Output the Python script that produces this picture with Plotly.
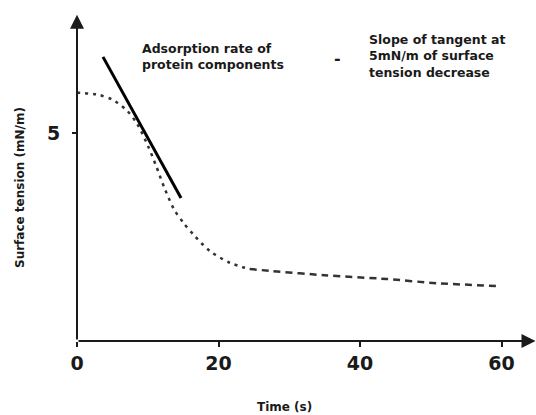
import plotly.graph_objects as go

# Data
t_dotted = [0.0, 3.0, 5.0, 7.0, 8.5, 10.0, 11.2, 12.4, 13.7, 15.0, 16.5, 18.8, 21.6, 24.4]
st_dotted = [5.97, 5.92, 5.80, 5.55, 5.22, 4.70, 4.20, 3.66, 3.17, 2.85, 2.55, 2.16, 1.88, 1.73]
t_dashed = [24.4, 27.7, 35.0, 43.8, 50.8, 59.7]
st_dashed = [1.73, 1.68, 1.58, 1.49, 1.39, 1.32]
t_tangent = [3.67, 14.7]
st_tangent = [6.83, 3.44]
x_ticks = [0, 20, 40, 60]
y_ticks = [5]

W, H = 536, 415
L, R, T, B = 77, 0, 10, 74
PW, PH = W - L - R, H - T - B
X_RANGE = [0, PW / 7.076]
Y_RANGE = [0, PH / 41.6]

def px(xp):
    return (xp - L) / PW

def py(yp):
    return (H - B - yp) / PH

FONT = "DejaVu Sans"
INK = "#1a1a1a"

fig = go.Figure()
fig.add_trace(go.Scatter(x=t_dotted, y=st_dotted, mode="lines",
                         line=dict(color="#333", width=2.5, dash="3px,5px",
                                   shape="spline", smoothing=0.8),
                         showlegend=False, hoverinfo="skip"))
fig.add_trace(go.Scatter(x=t_dashed, y=st_dashed, mode="lines",
                         line=dict(color="#333", width=2.5, dash="7px,5px",
                                   shape="spline", smoothing=0.6),
                         showlegend=False, hoverinfo="skip"))
fig.add_trace(go.Scatter(x=t_tangent, y=st_tangent, mode="lines",
                         line=dict(color="#000", width=3),
                         showlegend=False, hoverinfo="skip"))

annotations = []
# axes with arrowheads
annotations.append(dict(x=64.8, y=0, ax=0, ay=0, xref="x", yref="y", axref="x", ayref="y",
                        text="", showarrow=True, arrowhead=2, arrowsize=1.4, arrowwidth=2,
                        arrowcolor=INK, standoff=0))
annotations.append(dict(x=0, y=7.84, ax=0, ay=0, xref="x", yref="y", axref="x", ayref="y",
                        text="", showarrow=True, arrowhead=2, arrowsize=1.4, arrowwidth=2,
                        arrowcolor=INK, standoff=0))

def txt(s, x, y, size=12.5, xanchor="left", angle=0):
    annotations.append(dict(text=s, x=px(x), y=py(y), xref="paper", yref="paper",
                            xanchor=xanchor, yanchor="middle", showarrow=False,
                            textangle=angle, align="left",
                            font=dict(family=FONT, size=size, color=INK, weight="bold")))

txt("Adsorption rate of<br>protein components", 140, 56.5)
txt("<b>-</b>", 337, 58, size=16, xanchor="center")
txt("Slope of tangent at<br>5mN/m of surface<br>tension decrease", 367, 56)
txt("Surface tension (mN/m)", 20, 188, size=12, xanchor="center", angle=-90)
txt("Time (s)", 284, 407, size=12, xanchor="center")

fig.update_layout(
    width=W, height=H,
    margin=dict(l=L, r=R, t=T, b=B, pad=0),
    paper_bgcolor="white", plot_bgcolor="white",
    showlegend=False,
    annotations=annotations,
    xaxis=dict(range=X_RANGE, tickvals=x_ticks, showgrid=False, zeroline=False,
               showline=False, ticks="outside", ticklen=5, tickwidth=2, tickcolor=INK,
               tickfont=dict(family=FONT, size=19, color=INK, weight="bold"),
               fixedrange=True),
    yaxis=dict(range=Y_RANGE, tickvals=y_ticks, showgrid=False, zeroline=False,
               showline=False, ticks="outside", ticklen=4, tickwidth=2, tickcolor=INK,
               ticklabelstandoff=8,
               tickfont=dict(family=FONT, size=19, color=INK, weight="bold"),
               fixedrange=True),
)

fig.write_html("out.html")
